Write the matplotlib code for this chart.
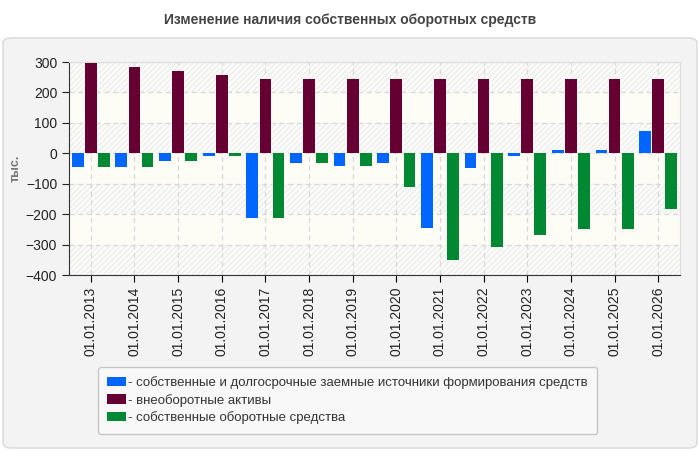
import numpy as np
import matplotlib
matplotlib.use("Agg")
import matplotlib.pyplot as plt
from matplotlib.patches import FancyBboxPatch, Rectangle

plt.rcParams["font.family"] = ["Liberation Sans", "DejaVu Sans"]
plt.rcParams["hatch.linewidth"] = 0.8

years = ["01.01.2013", "01.01.2014", "01.01.2015", "01.01.2016", "01.01.2017",
         "01.01.2018", "01.01.2019", "01.01.2020", "01.01.2021", "01.01.2022",
         "01.01.2023", "01.01.2024", "01.01.2025", "01.01.2026"]
sources = [-45, -45, -24, -9, -214, -32, -41, -32, -246, -47, -9, 11, 11, 74]
noncurrent = [298, 283, 269, 256, 243, 243, 243, 243, 243, 243, 243, 243, 243, 243]
working = [-45, -45, -24, -9, -214, -32, -41, -110, -350, -309, -269, -249, -249, -184]

labels = ["- собственные и долгосрочные заемные источники формирования средств",
          "- внеоборотные активы",
          "- собственные оборотные средства"]
colors = ["#0066ff", "#660033", "#008833"]

fig = plt.figure(figsize=(7, 4.5), dpi=100)
fig.patch.set_facecolor("white")

# серая подложка с рамкой
panel = FancyBboxPatch((3 / 700, 2 / 450), 694 / 700, 410 / 450,
                       boxstyle="round,pad=0,rounding_size=0.012",
                       transform=fig.transFigure, facecolor="#f3f3f3",
                       edgecolor="#dddddd", linewidth=1.2, zorder=-10)
fig.patches.append(panel)

fig.text(0.5, 1 - 20 / 450, "Изменение наличия собственных оборотных средств",
         ha="center", va="center", fontsize=10, fontweight="bold", color="#444444")

ax = fig.add_axes([69 / 700, 1 - 275 / 450, 611 / 700, 213 / 450])
ax.set_facecolor("#fbfbf9")

x = np.arange(len(years))
w = 0.27
ax.set_xlim(-0.5, len(years) - 0.5)
ax.set_ylim(-400, 300)

# фон: штриховка и кремовые полосы через одну
ax.add_patch(Rectangle((0, 0), 1, 1, transform=ax.transAxes, facecolor="#fbfbf9",
                       edgecolor="#ebebeb", hatch="//////", linewidth=0, zorder=0))
for lo in (100, -100, -300):
    ax.axhspan(lo, lo + 100, facecolor="#fdfdf6", zorder=0.5)

ax.grid(True, color="#d8d8d8", linestyle=(0, (4, 3)), linewidth=0.9, zorder=1)
ax.set_axisbelow(True)

ax.bar(x - w - 0.03, sources, w, color=colors[0], label=labels[0], zorder=3)
ax.bar(x, noncurrent, w, color=colors[1], label=labels[1], zorder=3)
ax.bar(x + w + 0.03, working, w, color=colors[2], label=labels[2], zorder=3)

ax.set_xticks(x)
ax.set_xticklabels(years, rotation=90, fontsize=10, color="#222222")
ax.set_yticks(np.arange(-400, 301, 100))
ax.tick_params(axis="y", labelsize=10, colors="#222222", length=5)
ax.tick_params(axis="x", length=5)
ax.set_ylabel("тыс.", fontsize=9, fontweight="bold", color="#777777")
ax.yaxis.set_label_coords(-0.077, 0.5)

for s in ("top", "right"):
    ax.spines[s].set_color("#dddddd")
for s in ("left", "bottom"):
    ax.spines[s].set_color("#333333")

leg = fig.legend(loc="upper left", bbox_to_anchor=(98 / 700, 1 - 367 / 450),
                 borderaxespad=0, fontsize=9.5, frameon=True, fancybox=True,
                 handlelength=1.4, handleheight=0.7, handletextpad=0.2,
                 labelspacing=0.35, borderpad=0.7, labelcolor="#333333")
leg.get_frame().set_facecolor("#fafafa")
leg.get_frame().set_edgecolor("#bbbbbb")

fig.savefig("out.png", dpi=100)
